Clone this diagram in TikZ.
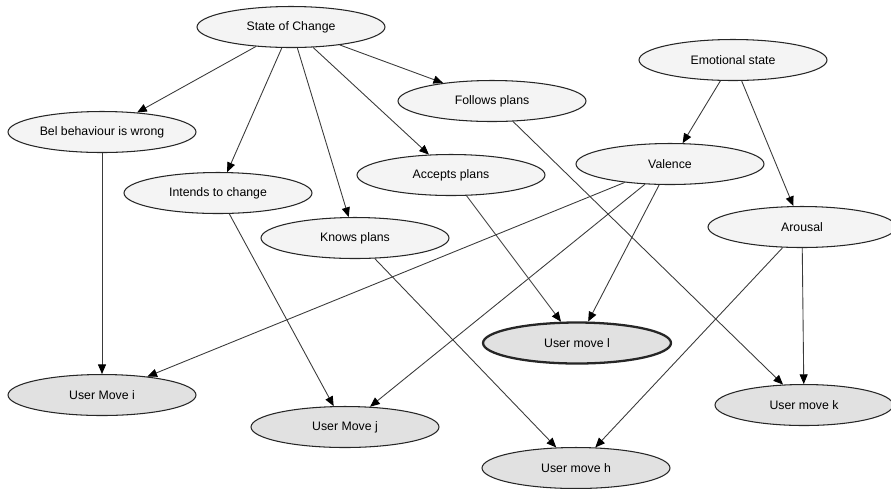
\documentclass[tikz,border=0pt]{standalone}
\usepackage{fontspec}
\setmainfont{Liberation Sans}
\usetikzlibrary{shapes.geometric,arrows.meta}

\definecolor{causefill}{HTML}{F4F4F4}
\definecolor{movefill}{HTML}{E1E1E1}
\definecolor{edgegray}{HTML}{3A3A3A}

\tikzset{
  state/.style={ellipse, draw=black!85, line width=0.6pt, fill=causefill,
    minimum width=3.76cm, minimum height=0.82cm, inner sep=0pt,
    font=\fontsize{7}{8.4}\selectfont},
  move/.style={state, fill=movefill},
  link/.style={draw=edgegray, line width=0.5pt,
    -{Triangle[length=5.5pt,width=4.6pt,color=black]}}
}

\begin{document}
\begin{tikzpicture}[x=0.02cm,y=-0.02cm]
  \useasboundingbox (0,0) rectangle (891,488);
  % Upper layer: beliefs and emotions
  \node[state] (soc) at (291,27) {State of Change};
  \node[state] (emo) at (733,60) {Emotional state};
  \node[state] (follows) at (492,101) {Follows plans};
  \node[state] (bel) at (102,132) {Bel behaviour is wrong};
  \node[state] (valence) at (670,164) {Valence};
  \node[state] (accepts) at (451,175) {Accepts plans};
  \node[state] (intends) at (218,193) {Intends to change};
  \node[state] (arousal) at (802,227) {Arousal};
  \node[state] (knows) at (355,238) {Knows plans};
  % Lower layer: user moves
  \node[move, line width=1.3pt] (movel) at (577,343) {User move l};
  \node[move] (movei) at (102,395) {User Move i};
  \node[move, minimum width=3.56cm] (movek) at (804,405) {User move k};
  \node[move] (movej) at (345,427) {User Move j};
  \node[move] (moveh) at (576,468) {User move h};
  % Connectors
  \foreach \from/\to in {soc/bel, soc/intends, soc/knows, soc/accepts,
      soc/follows, emo/valence, emo/arousal, bel/movei, intends/movej,
      knows/moveh, accepts/movel, follows/movek, valence/movei,
      valence/movej, valence/movel, arousal/moveh, arousal/movek} {
    \draw[link] (\from) -- (\to);
  }
\end{tikzpicture}
\end{document}
